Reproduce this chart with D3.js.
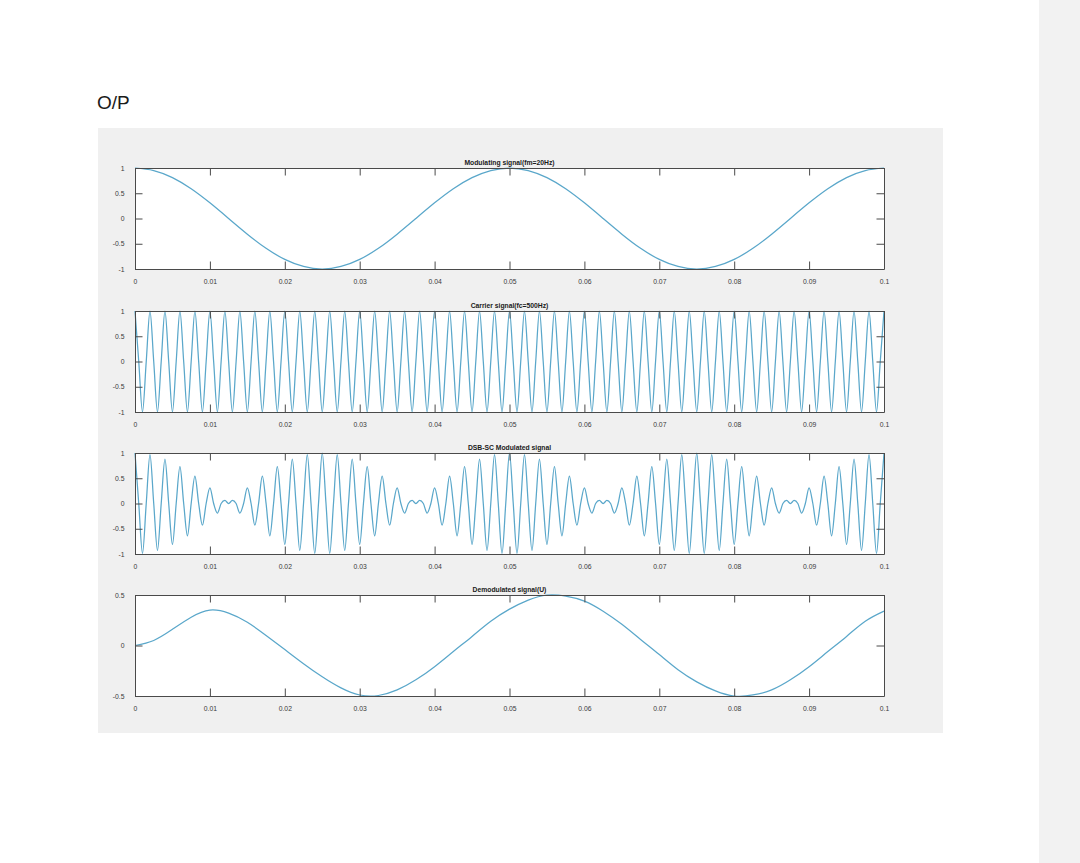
<!DOCTYPE html>
<html>
<head>
<meta charset="utf-8">
<script src="https://cdn.jsdelivr.net/npm/d3@7"></script>
<style>
  html, body { margin: 0; padding: 0; background: #ffffff; }
  svg { display: block; }
</style>
</head>
<body>
<svg id="chart" width="1080" height="863"></svg>
<script>
// ---------- DATA ----------
const panelTitles = [
  "Modulating signal(fm=20Hz)",
  "Carrier signal(fc=500Hz)",
  "DSB-SC Modulated signal",
  "Demodulated signal(U)"
];
const xTicks = [0, 0.01, 0.02, 0.03, 0.04, 0.05, 0.06, 0.07, 0.08, 0.09, 0.1];
const xTickLabels = ["0", "0.01", "0.02", "0.03", "0.04", "0.05", "0.06", "0.07", "0.08", "0.09", "0.1"];
const yTicksFull = [-1, -0.5, 0, 0.5, 1];
const yTickLabelsFull = ["-1", "-0.5", "0", "0.5", "1"];
const yTicksDemod = [-0.5, 0, 0.5];
const yTickLabelsDemod = ["-0.5", "0", "0.5"];

// sample spacing (s) of the read values below
const slowStep = 0.0025;
const fastStep = 0.0005;

// Modulating signal, read every 2.5 ms
const modulating = [
  1, 0.95, 0.81, 0.59, 0.31, 0, -0.31, -0.59, -0.81, -0.95,
  -1, -0.95, -0.81, -0.59, -0.31, 0, 0.31, 0.59, 0.81, 0.95,
  1, 0.95, 0.81, 0.59, 0.31, 0, -0.31, -0.59, -0.81, -0.95,
  -1, -0.95, -0.81, -0.59, -0.31, 0, 0.31, 0.59, 0.81, 0.95,
  1
];

// Carrier signal, read every 0.5 ms (peaks, zero crossings, troughs)
const carrier = [
  1,0,-1,0,1,0,-1,0,1,0,-1,0,1,0,-1,0,1,0,-1,0,
  1,0,-1,0,1,0,-1,0,1,0,-1,0,1,0,-1,0,1,0,-1,0,
  1,0,-1,0,1,0,-1,0,1,0,-1,0,1,0,-1,0,1,0,-1,0,
  1,0,-1,0,1,0,-1,0,1,0,-1,0,1,0,-1,0,1,0,-1,0,
  1,0,-1,0,1,0,-1,0,1,0,-1,0,1,0,-1,0,1,0,-1,0,
  1,0,-1,0,1,0,-1,0,1,0,-1,0,1,0,-1,0,1,0,-1,0,
  1,0,-1,0,1,0,-1,0,1,0,-1,0,1,0,-1,0,1,0,-1,0,
  1,0,-1,0,1,0,-1,0,1,0,-1,0,1,0,-1,0,1,0,-1,0,
  1,0,-1,0,1,0,-1,0,1,0,-1,0,1,0,-1,0,1,0,-1,0,
  1,0,-1,0,1,0,-1,0,1,0,-1,0,1,0,-1,0,1,0,-1,0,
  1
];

// DSB-SC modulated signal, read every 0.5 ms
const dsbsc = [
  1,0,-0.99,0,0.97,0,-0.93,0,0.88,0,-0.81,0,0.73,0,-0.64,0,0.54,0,-0.43,0,0.31,0,-0.19,0,0.06,0,
  0.06,0,-0.19,0,0.31,0,-0.43,0,0.54,0,-0.64,0,0.73,0,-0.81,0,0.88,0,-0.93,0,0.97,0,-0.99,0,
  1,0,-0.99,0,0.97,0,-0.93,0,0.88,0,-0.81,0,0.73,0,-0.64,0,0.54,0,-0.43,0,0.31,0,-0.19,0,0.06,0,
  0.06,0,-0.19,0,0.31,0,-0.43,0,0.54,0,-0.64,0,0.73,0,-0.81,0,0.88,0,-0.93,0,0.97,0,-0.99,0,
  1,0,-0.99,0,0.97,0,-0.93,0,0.88,0,-0.81,0,0.73,0,-0.64,0,0.54,0,-0.43,0,0.31,0,-0.19,0,0.06,0,
  0.06,0,-0.19,0,0.31,0,-0.43,0,0.54,0,-0.64,0,0.73,0,-0.81,0,0.88,0,-0.93,0,0.97,0,-0.99,0,
  1,0,-0.99,0,0.97,0,-0.93,0,0.88,0,-0.81,0,0.73,0,-0.64,0,0.54,0,-0.43,0,0.31,0,-0.19,0,0.06,0,
  0.06,0,-0.19,0,0.31,0,-0.43,0,0.54,0,-0.64,0,0.73,0,-0.81,0,0.88,0,-0.93,0,0.97,0,-0.99,0,
  1
];

// Demodulated signal, read every 2.5 ms
const demodulated = [
  0, 0.05, 0.16, 0.28, 0.35, 0.32, 0.23, 0.10, -0.04, -0.18,
  -0.31, -0.42, -0.49, -0.495, -0.44, -0.34, -0.21, -0.06, 0.09, 0.24,
  0.36, 0.45, 0.50, 0.49, 0.44, 0.34, 0.21, 0.06, -0.09, -0.24,
  -0.36, -0.45, -0.50, -0.49, -0.44, -0.34, -0.21, -0.06, 0.09, 0.24,
  0.34
];

// ---------- DRAWING ----------
const svg = d3.select("#chart");

// page decorations
svg.append("rect").attr("x", 1039).attr("y", 0).attr("width", 41).attr("height", 863).attr("fill", "#f2f2f2");
svg.append("text").attr("x", 97).attr("y", 109)
  .attr("font-family", "Liberation Sans, Arial, sans-serif")
  .attr("font-size", 19).attr("fill", "#1a1a1a").text("O/P");

// figure background
svg.append("rect").attr("x", 98).attr("y", 128).attr("width", 845).attr("height", 605).attr("fill", "#f0f0f0");

const axLeft = 135, axRight = 884;
const panelTops = [168, 311, 453, 595];
const panelH = 101;

const panels = [
  { title: panelTitles[0], values: modulating, step: slowStep, yDomain: [-1, 1], yTicks: yTicksFull, yLabels: yTickLabelsFull, curve: d3.curveNatural },
  { title: panelTitles[1], values: carrier, step: fastStep, yDomain: [-1, 1], yTicks: yTicksFull, yLabels: yTickLabelsFull, curve: d3.curveMonotoneX },
  { title: panelTitles[2], values: dsbsc, step: fastStep, yDomain: [-1, 1], yTicks: yTicksFull, yLabels: yTickLabelsFull, curve: d3.curveMonotoneX },
  { title: panelTitles[3], values: demodulated, step: slowStep, yDomain: [-0.5, 0.5], yTicks: yTicksDemod, yLabels: yTickLabelsDemod, curve: d3.curveNatural }
];

const lineColor = "#5aa7ca";
const axisColor = "#4a4a4a";
const labelFont = "Liberation Sans Narrow, Liberation Sans, Arial, sans-serif";
const tickLen = 7.5;

panels.forEach((p, i) => {
  const top = panelTops[i], bottom = top + panelH;
  const x = d3.scaleLinear().domain([0, 0.1]).range([axLeft, axRight]);
  const y = d3.scaleLinear().domain(p.yDomain).range([bottom, top]);
  const g = svg.append("g");

  g.append("rect").attr("x", axLeft).attr("y", top)
    .attr("width", axRight - axLeft).attr("height", panelH).attr("fill", "#ffffff");

  const clipId = "clip" + i;
  svg.append("clipPath").attr("id", clipId).append("rect")
    .attr("x", axLeft - 1).attr("y", top - 1).attr("width", axRight - axLeft + 2).attr("height", panelH + 2);

  const line = d3.line()
    .x((d, k) => x(k * p.step))
    .y(d => y(d))
    .curve(p.curve);

  g.append("path").datum(p.values)
    .attr("d", line)
    .attr("fill", "none")
    .attr("stroke", lineColor)
    .attr("stroke-width", 1.25)
    .attr("clip-path", `url(#${clipId})`);

  // axes with inward ticks (MATLAB style), labels bottom/left
  const xBottom = d3.axisBottom(x).tickValues(xTicks).tickSizeInner(-tickLen).tickSizeOuter(0)
    .tickPadding(tickLen + 3).tickFormat((d, k) => xTickLabels[k]);
  const xTop = d3.axisTop(x).tickValues(xTicks).tickSizeInner(-tickLen).tickSizeOuter(0).tickFormat("");
  const yLeft = d3.axisLeft(y).tickValues(p.yTicks).tickSizeInner(-tickLen).tickSizeOuter(0)
    .tickPadding(tickLen + 3).tickFormat((d, k) => p.yLabels[k]);
  const yRight = d3.axisRight(y).tickValues(p.yTicks).tickSizeInner(-tickLen).tickSizeOuter(0).tickFormat("");

  const styleAxis = sel => {
    sel.select(".domain").attr("stroke", axisColor).attr("stroke-width", 1);
    sel.selectAll(".tick line").attr("stroke", axisColor).attr("stroke-width", 1);
    sel.selectAll(".tick text").attr("fill", "#3a3a3a")
      .attr("font-family", labelFont).attr("font-size", 6.8);
  };

  g.append("g").attr("transform", `translate(0,${bottom})`).call(xBottom).call(styleAxis);
  g.append("g").attr("transform", `translate(0,${top})`).call(xTop).call(styleAxis);
  g.append("g").attr("transform", `translate(${axLeft},0)`).call(yLeft).call(styleAxis);
  g.append("g").attr("transform", `translate(${axRight},0)`).call(yRight).call(styleAxis);

  g.append("text")
    .attr("transform", `translate(${(axLeft + axRight) / 2},${top - 3}) scale(0.87,1)`)
    .attr("text-anchor", "middle")
    .attr("font-family", labelFont).attr("font-weight", "bold")
    .attr("font-size", 7.8).attr("fill", "#1a1a1a")
    .text(p.title);
});
</script>
</body>
</html>
